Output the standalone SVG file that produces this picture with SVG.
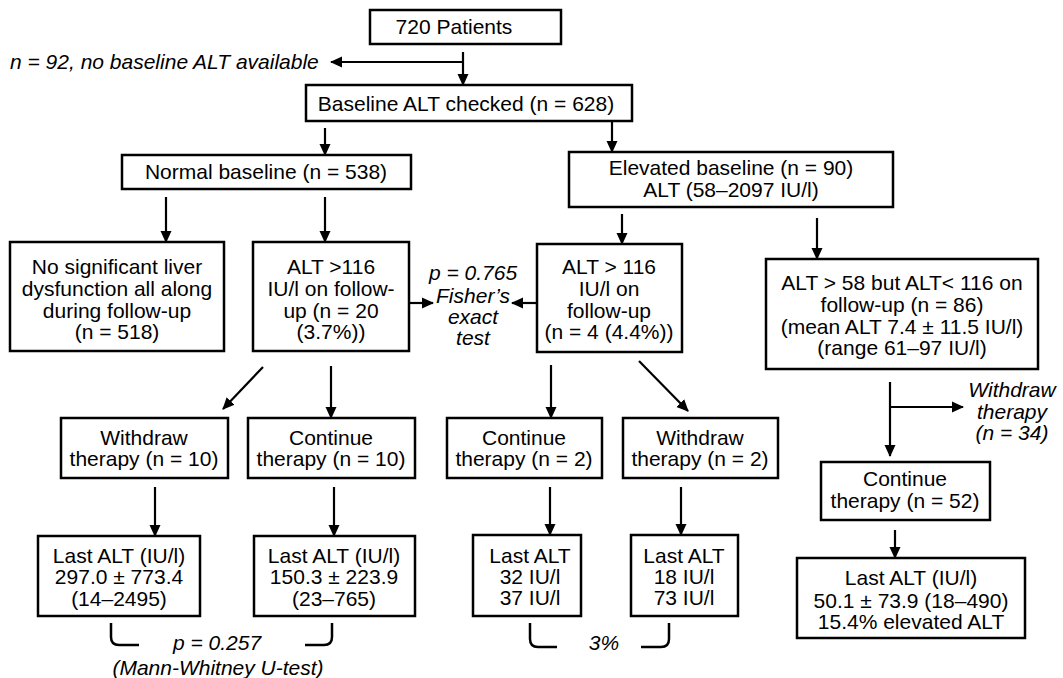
<svg xmlns="http://www.w3.org/2000/svg" width="1063" height="678" viewBox="0 0 1063 678">
<style>
.box{fill:#fff;stroke:#000;stroke-width:2.5}
.t{font-family:"Liberation Sans",Arial,sans-serif;font-size:21px;fill:#000;text-anchor:middle}
.i{font-style:italic}
.l{text-anchor:start}
.c{fill:none;stroke:#000;stroke-width:2.2}
.br{fill:none;stroke:#000;stroke-width:2.5}
</style>
<defs>
<marker id="ah" viewBox="0 0 12 12" refX="11" refY="6" markerWidth="12" markerHeight="12" markerUnits="userSpaceOnUse" orient="auto">
<path d="M0,0.5 L12,6 L0,11.5 Z" fill="#000"/>
</marker>
</defs>
<rect width="1063" height="678" fill="#fff"/>

<g id="connectors">
<line class="c" x1="463" y1="62" x2="331" y2="62" marker-end="url(#ah)"/>
<line class="c" x1="463" y1="52" x2="463" y2="85" marker-end="url(#ah)"/>
<line class="c" x1="325" y1="128" x2="325" y2="155" marker-end="url(#ah)"/>
<line class="c" x1="612" y1="122" x2="612" y2="152" marker-end="url(#ah)"/>
<line class="c" x1="166" y1="197" x2="166" y2="242" marker-end="url(#ah)"/>
<line class="c" x1="325" y1="197" x2="325" y2="242" marker-end="url(#ah)"/>
<line class="c" x1="622" y1="214" x2="622" y2="244" marker-end="url(#ah)"/>
<line class="c" x1="817" y1="218" x2="817" y2="259" marker-end="url(#ah)"/>
<line class="c" x1="409" y1="303" x2="433" y2="303" marker-end="url(#ah)"/>
<line class="c" x1="537" y1="303" x2="512" y2="303" marker-end="url(#ah)"/>
<line class="c" x1="263" y1="367" x2="223" y2="409" marker-end="url(#ah)"/>
<line class="c" x1="331" y1="366" x2="331" y2="418" marker-end="url(#ah)"/>
<line class="c" x1="551" y1="365" x2="551" y2="418" marker-end="url(#ah)"/>
<line class="c" x1="639" y1="361" x2="688" y2="411" marker-end="url(#ah)"/>
<line class="c" x1="890" y1="382" x2="890" y2="456" marker-end="url(#ah)"/>
<line class="c" x1="890" y1="407" x2="963" y2="407" marker-end="url(#ah)"/>
<line class="c" x1="155" y1="487" x2="155" y2="536" marker-end="url(#ah)"/>
<line class="c" x1="334" y1="487" x2="334" y2="536" marker-end="url(#ah)"/>
<line class="c" x1="550" y1="487" x2="550" y2="535" marker-end="url(#ah)"/>
<line class="c" x1="681" y1="487" x2="681" y2="535" marker-end="url(#ah)"/>
<line class="c" x1="895" y1="530" x2="895" y2="558" marker-end="url(#ah)"/>
<path class="br" d="M111,623 V637 Q111,645 119,645 H139"/>
<path class="br" d="M305,645 H324 Q332,645 332,637 V623"/>
<path class="br" d="M530,623 V639 Q530,647 538,647 H557"/>
<path class="br" d="M641,647 H661 Q669,647 669,639 V623"/>
</g>

<g id="n-720">
<rect class="box" x="370" y="10" width="191" height="34"/>
<text class="t" x="454" y="34">720 Patients</text>
</g>
<g id="n-nobaseline">
<text class="t i l" x="10" y="69">n = 92, no baseline ALT available</text>
</g>
<g id="n-baseline">
<rect class="box" x="306" y="85" width="326" height="36"/>
<text class="t" x="466" y="111">Baseline ALT checked (n = 628)</text>
</g>
<g id="n-normal">
<rect class="box" x="122" y="155" width="289" height="34"/>
<text class="t" x="266" y="179">Normal baseline (n = 538)</text>
</g>
<g id="n-elevated">
<rect class="box" x="569" y="152" width="324" height="55"/>
<text class="t" x="731" y="175">Elevated baseline (n = 90)</text>
<text class="t" x="731" y="197">ALT (58–2097 IU/l)</text>
</g>
<g id="n-nosig">
<rect class="box" x="10" y="242" width="214" height="109"/>
<text class="t" x="117" y="274">No significant liver</text>
<text class="t" x="117" y="296">dysfunction all along</text>
<text class="t" x="117" y="318">during follow-up</text>
<text class="t" x="117" y="339">(n = 518)</text>
</g>
<g id="n-alt20">
<rect class="box" x="253" y="242" width="156" height="109"/>
<text class="t" x="331" y="274">ALT &gt;116</text>
<text class="t" x="331" y="296">IU/l on follow-</text>
<text class="t" x="331" y="318">up (n = 20</text>
<text class="t" x="331" y="339">(3.7%))</text>
</g>
<g id="n-fisher">
<text class="t i" x="473" y="280">p = 0.765</text>
<text class="t i" x="473" y="303">Fisher’s</text>
<text class="t i" x="473" y="324">exact</text>
<text class="t i" x="473" y="345">test</text>
</g>
<g id="n-alt4">
<rect class="box" x="537" y="244" width="145" height="108"/>
<text class="t" x="609" y="274">ALT &gt; 116</text>
<text class="t" x="609" y="296">IU/l on</text>
<text class="t" x="609" y="318">follow-up</text>
<text class="t" x="609" y="339">(n = 4 (4.4%))</text>
</g>
<g id="n-alt86">
<rect class="box" x="766" y="259" width="272" height="110"/>
<text class="t" x="902" y="290">ALT &gt; 58 but ALT&lt; 116 on</text>
<text class="t" x="902" y="312">follow-up (n = 86)</text>
<text class="t" x="902" y="334">(mean ALT 7.4 ± 11.5 IU/l)</text>
<text class="t" x="902" y="355">(range 61–97 IU/l)</text>
</g>
<g id="n-withdraw34">
<text class="t i" x="1012" y="397">Withdraw</text>
<text class="t i" x="1012" y="419">therapy</text>
<text class="t i" x="1012" y="440">(n = 34)</text>
</g>
<g id="n-withdraw10">
<rect class="box" x="61" y="418" width="167" height="60"/>
<text class="t" x="144" y="445">Withdraw</text>
<text class="t" x="144" y="466">therapy (n = 10)</text>
</g>
<g id="n-continue10">
<rect class="box" x="248" y="418" width="167" height="60"/>
<text class="t" x="331" y="445">Continue</text>
<text class="t" x="331" y="466">therapy (n = 10)</text>
</g>
<g id="n-continue2">
<rect class="box" x="447" y="418" width="155" height="60"/>
<text class="t" x="524" y="445">Continue</text>
<text class="t" x="524" y="466">therapy (n = 2)</text>
</g>
<g id="n-withdraw2">
<rect class="box" x="623" y="418" width="155" height="60"/>
<text class="t" x="700" y="445">Withdraw</text>
<text class="t" x="700" y="466">therapy (n = 2)</text>
</g>
<g id="n-continue52">
<rect class="box" x="821" y="462" width="169" height="58"/>
<text class="t" x="905" y="486">Continue</text>
<text class="t" x="905" y="508">therapy (n = 52)</text>
</g>
<g id="n-last1">
<rect class="box" x="38" y="536" width="162" height="80"/>
<text class="t" x="119" y="563">Last ALT (IU/l)</text>
<text class="t" x="119" y="584">297.0 ± 773.4</text>
<text class="t" x="119" y="606">(14–2495)</text>
</g>
<g id="n-last2">
<rect class="box" x="254" y="536" width="161" height="80"/>
<text class="t" x="334" y="563">Last ALT (IU/l)</text>
<text class="t" x="334" y="584">150.3 ± 223.9</text>
<text class="t" x="334" y="606">(23–765)</text>
</g>
<g id="n-last3">
<rect class="box" x="473" y="535" width="108" height="81"/>
<text class="t" x="530" y="563">Last ALT</text>
<text class="t" x="530" y="584">32 IU/l</text>
<text class="t" x="530" y="605">37 IU/l</text>
</g>
<g id="n-last4">
<rect class="box" x="631" y="535" width="107" height="81"/>
<text class="t" x="684" y="563">Last ALT</text>
<text class="t" x="684" y="584">18 IU/l</text>
<text class="t" x="684" y="605">73 IU/l</text>
</g>
<g id="n-last52">
<rect class="box" x="797" y="558" width="228" height="80"/>
<text class="t" x="911" y="585">Last ALT (IU/l)</text>
<text class="t" x="911" y="608">50.1 ± 73.9 (18–490)</text>
<text class="t" x="911" y="629">15.4% elevated ALT</text>
</g>
<g id="n-mw">
<text class="t i" x="217" y="650">p = 0.257</text>
<text class="t i" x="218" y="674.5">(Mann-Whitney U-test)</text>
</g>
<g id="n-3pct">
<text class="t i" x="604" y="650">3%</text>
</g>
</svg>
